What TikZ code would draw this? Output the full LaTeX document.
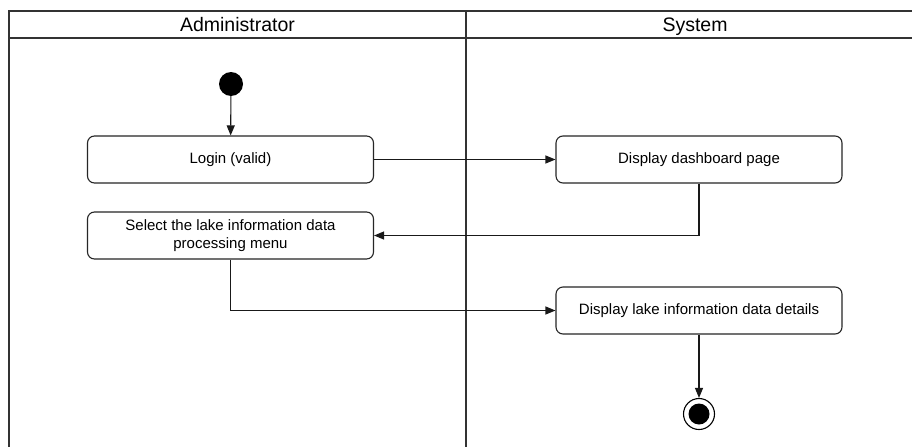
\documentclass[tikz,border=0pt]{standalone}
\usepackage{fontspec}
\setmainfont{Liberation Sans}
\usetikzlibrary{arrows.meta}
\begin{document}
\begin{tikzpicture}[x=1pt,y=-1pt,
  lane/.style={draw=black!80, line width=1.2pt},
  act/.style={draw=black!85, line width=1.1pt, rounded corners=7pt,
    minimum width=286pt, minimum height=47pt, inner sep=0pt,
    font=\fontsize{15}{18}\selectfont, align=center},
  hdr/.style={font=\fontsize{19.5}{22}\selectfont, inner sep=0pt, anchor=base},
  flow/.style={draw=black!90, line width=1.1pt, -{Triangle[length=10pt,width=8pt]}},
  startnode/.style={circle, fill=black, minimum size=24pt, inner sep=0pt},
  endring/.style={circle, draw=black, line width=1.1pt, minimum size=31pt, inner sep=0pt},
]
\useasboundingbox (0,0) rectangle (912,447);
\fill[white] (0,0) rectangle (912,447);
% swimlane frame
\draw[lane] (912,11) -- (9,11) -- (9,447);
\draw[lane] (9,38) -- (912,38);
\draw[lane] (466,11) -- (466,447);
\node[hdr] (hadmin) at (237.5,31) {Administrator};
\node[hdr] (hsys) at (695,31) {System};
% nodes
\node[startnode] (start) at (231,84) {};
\node[act] (login) at (230.5,159.5) {\raisebox{-1.5pt}{Login (valid)}};
\node[act] (dash) at (699,159.5) {\raisebox{-1.5pt}{Display dashboard page}};
\node[act] (select) at (230.5,235.5) {Select the lake information data\\processing menu};
\node[act] (details) at (699,310.5) {\raisebox{-1.5pt}{Display lake information data details}};
\node[endring] (end) at (699,414) {};
\node[circle, fill=black, minimum size=21pt, inner sep=0pt] (endin) at (end.center) {};
% connectors
\draw[flow] (start) -- (login);
\draw[flow] (login) -- (dash);
\draw[flow] (dash.south) |- (select.east);
\draw[flow] (select.south) |- (details.west);
\draw[flow] (details) -- (end);
\end{tikzpicture}
\end{document}
